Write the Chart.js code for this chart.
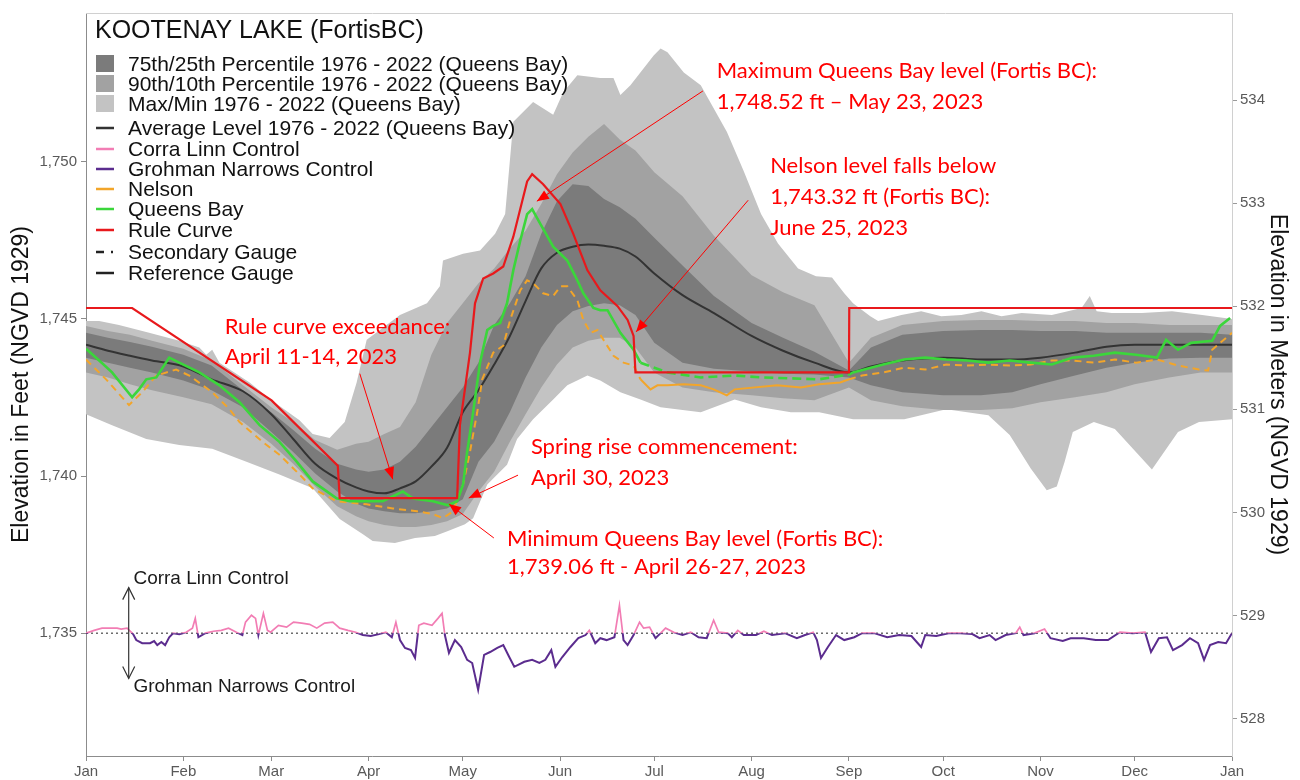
<!DOCTYPE html>
<html>
<head>
<meta charset="utf-8">
<script src="https://cdn.jsdelivr.net/npm/chart.js@4.4.1/dist/chart.umd.min.js"></script>
<style>
  body { margin: 0; background: #fff; }
  #wrap { width: 1300px; height: 780px; }
</style>
</head>
<body>
<div id="wrap"><canvas id="lakeChart" width="1300" height="780"></canvas></div>
<script>
// x values are day of year (0 = Jan 1), y values are feet (NGVD 1929)
const monthDays = [0, 31, 59, 90, 120, 151, 181, 212, 243, 273, 304, 334, 365];
const monthLabels = ['Jan', 'Feb', 'Mar', 'Apr', 'May', 'Jun', 'Jul', 'Aug', 'Sep', 'Oct', 'Nov', 'Dec', 'Jan'];
const feetTicks = [1735, 1740, 1745, 1750];
const meterTicks = [528, 529, 530, 531, 532, 533, 534];

// percentile bands + average, 1976 - 2022 (Queens Bay)
const bandDays = [0, 7, 14, 21, 31, 40, 50, 59, 66, 73, 80, 86, 90, 95, 100, 105, 110, 115, 120, 125,
  130, 135, 140, 145, 150, 155, 160, 165, 170, 175, 181, 190, 200, 212, 222, 232, 243, 250, 260, 273,
  285, 295, 304, 315, 325, 334, 345, 355, 365];
const p90 = [1744.78, 1744.62, 1744.50, 1744.31, 1744.05, 1743.68, 1742.89, 1742.19, 1741.72, 1741.15,
  1740.84, 1741.03, 1741.09, 1741.34, 1741.56, 1742.35, 1743.86, 1744.87, 1745.50, 1746.14,
  1746.61, 1747.24, 1747.81, 1748.66, 1749.61, 1750.30, 1750.80, 1751.21, 1750.71, 1750.36,
  1749.67, 1748.91, 1747.65, 1746.39, 1745.85, 1745.44, 1743.61, 1744.40, 1744.81, 1744.94,
  1744.97, 1744.97, 1744.94, 1744.94, 1744.87, 1744.87, 1744.81, 1744.81, 1744.81];
const p75 = [1744.56, 1744.40, 1744.27, 1744.12, 1743.86, 1743.52, 1742.73, 1742.03, 1741.47, 1740.87,
  1740.39, 1740.21, 1740.14, 1740.21, 1740.46, 1740.93, 1741.56, 1742.19, 1742.82, 1743.61,
  1744.81, 1745.50, 1746.36, 1747.71, 1748.75, 1749.29, 1749.23, 1748.82, 1748.56, 1748.19,
  1747.59, 1746.70, 1745.73, 1744.87, 1744.40, 1743.96, 1743.36, 1744.09, 1744.50, 1744.62,
  1744.65, 1744.65, 1744.62, 1744.62, 1744.56, 1744.56, 1744.56, 1744.56, 1744.50];
const avgLevel = [1744.18, 1743.99, 1743.83, 1743.68, 1743.49, 1743.08, 1742.70, 1741.97, 1741.18, 1740.39,
  1739.92, 1739.64, 1739.51, 1739.45, 1739.61, 1739.83, 1740.30, 1740.90, 1742.03, 1742.73,
  1743.55, 1744.46, 1745.57, 1746.61, 1747.11, 1747.30, 1747.37, 1747.33, 1747.24, 1746.99,
  1746.45, 1745.76, 1745.19, 1744.46, 1743.99, 1743.61, 1743.30, 1743.49, 1743.68, 1743.77,
  1743.71, 1743.71, 1743.77, 1743.93, 1744.12, 1744.18, 1744.18, 1744.18, 1744.18];
const p25 = [1743.77, 1743.61, 1743.45, 1743.30, 1743.04, 1742.73, 1742.19, 1741.40, 1740.77, 1740.08,
  1739.51, 1739.13, 1738.97, 1738.88, 1738.82, 1738.82, 1738.88, 1738.97, 1739.26, 1740.46,
  1741.09, 1742.03, 1743.14, 1744.09, 1744.81, 1745.25, 1745.41, 1745.50, 1745.44, 1745.13,
  1744.24, 1743.61, 1743.42, 1743.33, 1743.26, 1743.23, 1743.14, 1742.89, 1742.67, 1742.57,
  1742.57, 1742.67, 1742.92, 1743.20, 1743.45, 1743.61, 1743.74, 1743.77, 1743.77];
const p10 = [1743.30, 1743.14, 1742.92, 1742.73, 1742.51, 1742.29, 1741.72, 1741.03, 1740.39, 1739.67,
  1739.04, 1738.72, 1738.56, 1738.44, 1738.38, 1738.38, 1738.44, 1738.56, 1738.79, 1739.51,
  1740.14, 1741.09, 1741.97, 1742.82, 1743.55, 1744.09, 1744.31, 1744.40, 1744.40, 1744.09,
  1743.30, 1742.82, 1742.67, 1742.57, 1742.48, 1742.41, 1742.82, 1742.41, 1742.22, 1742.10,
  1742.10, 1742.16, 1742.35, 1742.51, 1742.67, 1742.92, 1743.14, 1743.30, 1743.30];

// max / min 1976 - 2022
const maxDays = [0, 4.2, 10.5, 20.1, 29.7, 36.1, 38.3, 40.2, 42.5, 52.1, 59.1, 68.0, 72.2, 77.6, 82.4, 86.2,
  89.4, 93.6, 100.0, 108.6, 112.7, 113.7, 120.1, 125.5, 130.3, 133.5, 136.1, 142.4, 148.8, 152.0, 156.5,
  163.8, 168.0, 170.2, 173.4, 180.8, 183.0, 185.2, 190.4, 195.8, 204.1, 209.5, 215.0, 220.4, 226.8,
  232.5, 237.6, 241.5, 244.3, 249.8, 252.3, 259.7, 266.0, 272.4, 278.8, 285.2, 291.6, 298.0, 307.6,
  317.1, 319.7, 321.9, 326.7, 336.3, 345.9, 355.5, 365];
const maxLevel = [1744.94, 1744.94, 1744.81, 1744.56, 1744.31, 1744.09, 1743.86, 1744.02, 1743.61, 1742.98,
  1742.41, 1741.78, 1741.34, 1741.21, 1741.72, 1742.98, 1744.34, 1744.65, 1745.13, 1745.50, 1746.04,
  1746.86, 1747.08, 1747.18, 1747.71, 1748.34, 1751.28, 1751.91, 1751.50, 1752.22, 1752.76, 1752.67,
  1752.67, 1752.13, 1752.44, 1753.39, 1753.61, 1753.49, 1752.85, 1752.44, 1750.96, 1749.70, 1748.34,
  1747.40, 1746.61, 1746.36, 1746.32, 1745.82, 1745.50, 1745.09, 1744.94, 1745.13, 1745.25, 1745.09,
  1745.13, 1745.25, 1745.09, 1745.19, 1745.13, 1745.35, 1745.73, 1745.25, 1745.19, 1745.19, 1745.25,
  1745.13, 1745.00];
const minDays = [0, 8.3, 19.2, 29.7, 40.2, 51.1, 61.6, 72.2, 80.8, 88.2, 91.3, 98.4, 104.8, 111.1, 115.3,
  120.7, 123.3, 127.8, 134.1, 137.3, 142.4, 148.8, 153.3, 159.7, 163.8, 170.2, 176.6, 183.0, 195.8,
  206.6, 215.0, 224.5, 233.5, 244.3, 260.6, 274.0, 287.4, 294.2, 300.9, 306.0, 309.2, 311.7, 314.3,
  321.0, 327.7, 334.4, 339.5, 347.8, 354.5, 365];
const minLevel = [1741.97, 1741.62, 1741.18, 1740.99, 1740.87, 1740.46, 1740.05, 1739.61, 1738.63, 1738.15,
  1737.93, 1737.87, 1738.03, 1738.09, 1738.25, 1738.47, 1738.66, 1739.73, 1740.36, 1741.18, 1741.81,
  1742.44, 1742.89, 1743.20, 1743.04, 1742.67, 1742.44, 1742.19, 1742.03, 1742.44, 1742.19, 1742.03,
  1742.03, 1741.81, 1741.81, 1742.13, 1741.94, 1741.31, 1740.24, 1739.55, 1739.67, 1740.46, 1741.40,
  1741.72, 1741.50, 1740.77, 1740.21, 1741.40, 1741.72, 1741.81];

// 2023 rule curve
const ruleDays = [0, 14.7, 59.1, 80.2, 80.8, 118.2, 119.1, 122.3, 123.9, 126.5, 129.7, 132.9, 136.1, 140.5,
  142.1, 145.6, 151.1, 155.2, 159.7, 163.8, 169.3, 172.5, 174.4, 175.0, 243.0, 243.1, 365];
const ruleCurve = [1745.35, 1745.35, 1742.41, 1740.33, 1739.30, 1739.30, 1741.62, 1743.93, 1745.50, 1746.29,
  1746.45, 1746.67, 1747.62, 1749.38, 1749.61, 1749.29, 1748.66, 1747.71, 1746.55, 1745.91, 1745.41,
  1744.97, 1744.46, 1743.30, 1743.30, 1745.35, 1745.35];

// 2023 Queens Bay gauge
const qbDays = [0, 4.2, 8.3, 14.7, 16.9, 19.2, 22.4, 26.5, 29.7, 36.1, 42.5, 48.9, 55.3, 61.6, 67.1, 72.2,
  79.8, 84.0, 94.5, 100.9, 104.1, 110.5, 115.3, 118.2, 120.1, 121.4, 123.3, 125.5, 127.8, 129.7, 131.9,
  134.1, 136.1, 138.3, 140.5, 142.1, 144.7, 148.8, 153.3, 156.5, 158.4, 161.6, 163.8, 166.1, 170.2,
  174.4, 176.6, 185.2, 195.8, 206.6, 215.0, 224.5, 233.5, 243.0, 244.3, 253.9, 260.6, 267.3, 274.0,
  280.7, 287.4, 294.2, 300.9, 307.6, 314.3, 321.0, 327.7, 334.4, 341.1, 344.0, 347.8, 352.0, 358.7,
  361.2, 364.4];
const queensBay = [1744.05, 1743.68, 1743.30, 1742.51, 1742.76, 1743.08, 1743.14, 1743.77, 1743.61, 1743.30,
  1742.89, 1742.35, 1741.62, 1741.09, 1740.46, 1739.83, 1739.29, 1739.20, 1739.20, 1739.51, 1739.29,
  1739.20, 1739.07, 1739.20, 1739.73, 1740.77, 1742.03, 1743.61, 1744.65, 1744.78, 1744.87, 1745.50,
  1746.55, 1747.49, 1748.34, 1748.50, 1748.03, 1747.30, 1746.86, 1746.23, 1745.82, 1745.35, 1745.28,
  1745.28, 1744.56, 1744.02, 1743.61, 1743.30, 1743.14, 1743.20, 1743.14, 1743.11, 1743.08, 1743.23,
  1743.30, 1743.55, 1743.71, 1743.77, 1743.71, 1743.68, 1743.61, 1743.68, 1743.61, 1743.55, 1743.77,
  1743.83, 1743.93, 1743.86, 1743.77, 1744.34, 1744.02, 1744.24, 1744.31, 1744.78, 1745.03];

// 2023 Nelson gauge
const nelsonDays = [0, 6.4, 13.7, 17.9, 22.4, 28.7, 32.9, 40.2, 45.7, 48.9, 56.2, 61.6, 68.0, 72.2, 79.8,
  89.4, 97.7, 105.4, 110.5, 113.7, 116.9, 120.1, 122.3, 124.6, 126.2, 129.7, 132.9, 135.1, 138.3, 140.5,
  142.4, 145.6, 148.8, 151.1, 153.3, 156.5, 158.4, 160.7, 162.9, 164.8, 168.0, 171.2, 174.4, 176.6,
  179.8, 182.0, 185.2, 190.4, 195.8, 199.9, 204.1, 206.6, 220.1, 227.7, 233.5, 240.2, 243.0, 247.2,
  253.9, 260.6, 267.3, 274.0, 280.7, 287.4, 294.2, 300.9, 307.6, 314.3, 321.0, 327.7, 334.4, 341.1,
  347.8, 354.5, 357.4, 358.7, 361.2, 365];
const nelson = [1743.71, 1743.08, 1742.26, 1742.67, 1743.20, 1743.39, 1743.20, 1742.67, 1742.13, 1741.72,
  1741.09, 1740.68, 1740.05, 1739.61, 1739.20, 1739.10, 1738.97, 1738.88, 1738.79, 1738.66, 1738.88,
  1739.73, 1740.77, 1742.03, 1743.08, 1743.93, 1744.15, 1744.97, 1745.91, 1746.23, 1746.14, 1745.82,
  1745.73, 1746.04, 1746.04, 1745.60, 1744.97, 1744.56, 1744.65, 1744.34, 1743.83, 1743.61, 1743.52,
  1743.08, 1742.76, 1742.89, 1742.89, 1742.92, 1742.89, 1742.76, 1742.57, 1742.76, 1742.89, 1742.82,
  1742.92, 1742.98, 1743.08, 1743.20, 1743.30, 1743.45, 1743.39, 1743.55, 1743.52, 1743.55, 1743.52,
  1743.55, 1743.68, 1743.68, 1743.61, 1743.71, 1743.61, 1743.71, 1743.52, 1743.39, 1743.36, 1744.02,
  1744.24, 1744.56];

// Corra Linn (above 1,735) / Grohman Narrows (below 1,735) control
const controlBase = 1735;
const ctrlDays = [0.0, 2.6, 5.1, 9.9, 11.2, 13.1, 15.0, 16.0, 17.9, 20.4, 21.7, 22.7, 24.0, 25.2, 26.5,
  27.8, 29.7, 31.9, 33.9, 34.8, 35.8, 38.0, 40.6, 43.1, 45.4, 47.9, 49.8, 50.8, 52.7, 54.0, 54.9, 56.5,
  57.8, 58.8, 61.3, 63.9, 66.1, 68.7, 71.2, 73.5, 76.0, 78.6, 80.8, 83.4, 85.9, 88.2, 90.7, 93.3, 95.5,
  97.4, 98.7, 100.0, 101.6, 103.5, 104.8, 106.0, 107.6, 110.2, 112.1, 113.4, 114.3, 115.6, 117.5,
  119.5, 121.4, 123.0, 124.9, 126.8, 128.7, 131.0, 132.9, 134.8, 136.4, 139.6, 142.1, 144.4, 146.3,
  148.2, 149.5, 151.7, 154.3, 156.8, 159.1, 160.3, 162.2, 163.8, 165.8, 168.3, 169.9, 171.2, 172.5,
  174.4, 176.3, 177.6, 179.5, 181.4, 184.6, 187.2, 190.0, 192.6, 195.1, 197.7, 199.9, 201.5, 204.4,
  205.7, 207.6, 209.5, 213.4, 215.9, 218.5, 222.6, 226.4, 229.0, 231.6, 232.8, 234.1, 236.3, 238.9,
  241.5, 244.7, 247.2, 251.0, 255.2, 259.0, 262.9, 266.0, 267.3, 270.8, 274.7, 278.5, 282.3, 284.6,
  287.8, 289.7, 292.9, 296.1, 297.4, 298.6, 302.1, 305.3, 307.2, 311.1, 313.6, 317.8, 321.6, 325.5,
  329.3, 333.4, 337.3, 339.2, 341.7, 344.3, 346.2, 349.1, 351.6, 354.2, 356.1, 358.0, 360.6, 363.1, 365.0];
const control = [1735.00, 1735.09, 1735.16, 1735.16, 1735.13, 1735.16, 1734.97, 1734.78, 1734.68, 1734.68,
  1734.75, 1734.62, 1734.72, 1734.62, 1734.87, 1735.00, 1734.97, 1735.03, 1735.16, 1735.47, 1734.87,
  1735.00, 1735.06, 1735.09, 1735.16, 1735.03, 1734.94, 1735.35, 1735.57, 1735.47, 1734.94, 1735.63,
  1735.09, 1735.03, 1735.25, 1735.19, 1735.35, 1735.32, 1735.28, 1735.16, 1735.32, 1735.35, 1735.16,
  1735.09, 1735.03, 1734.94, 1734.91, 1734.97, 1735.03, 1734.87, 1735.35, 1734.78, 1734.53, 1734.46,
  1734.21, 1735.25, 1735.32, 1735.25, 1735.47, 1735.63, 1734.94, 1734.37, 1734.78, 1734.56, 1734.15,
  1734.05, 1733.20, 1734.31, 1734.40, 1734.53, 1734.62, 1734.24, 1733.93, 1734.09, 1734.15, 1734.05,
  1734.15, 1734.46, 1733.93, 1734.24, 1734.56, 1734.84, 1734.94, 1735.09, 1734.68, 1734.84, 1734.78,
  1734.87, 1735.88, 1734.78, 1734.62, 1734.94, 1735.35, 1735.16, 1735.19, 1734.84, 1735.16, 1735.03,
  1734.94, 1735.03, 1734.87, 1734.84, 1735.41, 1735.03, 1735.00, 1734.87, 1735.09, 1734.94, 1734.94,
  1735.06, 1734.94, 1735.00, 1734.84, 1734.94, 1735.03, 1734.78, 1734.21, 1734.56, 1734.94, 1734.78,
  1734.87, 1735.00, 1735.00, 1734.87, 1734.94, 1734.91, 1734.56, 1734.94, 1734.91, 1735.00, 1735.00,
  1734.97, 1734.84, 1734.94, 1734.78, 1734.94, 1735.00, 1735.19, 1734.94, 1735.00, 1735.13, 1734.84,
  1734.75, 1734.84, 1734.84, 1734.78, 1734.78, 1735.03, 1735.00, 1735.03, 1734.40, 1734.84, 1734.87,
  1734.46, 1734.62, 1734.84, 1734.68, 1734.15, 1734.62, 1734.72, 1734.68, 1735.00];

const FT_TO_M = 0.3048;
const yMin = 1731.09, yMax = 1754.74;
const summerStart = 174.5, summerEnd = 243;

const bandColors = { outer: '#c3c3c3', mid: '#a2a2a2', inner: '#7b7b7b' };
const lineColors = {
  average: '#333333', corra: '#f27db4', grohman: '#5b2c8e',
  nelson: '#f2a52a', queens: '#3bd63b', rule: '#e8191c'
};

const pts = (xs, ys) => xs.map((x, i) => ({ x: x, y: ys[i] }));
const inSummer = ctx => ctx.p0.parsed.x >= summerStart && ctx.p0.parsed.x < summerEnd;

// legend, annotations (not data)
const legendRows = [
  { text: '75th/25th Percentile 1976 - 2022 (Queens Bay)', box: bandColors.inner, y: 71 },
  { text: '90th/10th Percentile 1976 - 2022 (Queens Bay)', box: bandColors.mid, y: 91 },
  { text: 'Max/Min 1976 - 2022 (Queens Bay)', box: bandColors.outer, y: 111 },
  { text: 'Average Level 1976 - 2022 (Queens Bay)', line: lineColors.average, y: 135 },
  { text: 'Corra Linn Control', line: lineColors.corra, y: 156 },
  { text: 'Grohman Narrows Control', line: lineColors.grohman, y: 176 },
  { text: 'Nelson', line: lineColors.nelson, y: 196 },
  { text: 'Queens Bay', line: lineColors.queens, y: 216 },
  { text: 'Rule Curve', line: lineColors.rule, y: 237 },
  { text: 'Secondary Gauge', line: '#222', dash: [8, 7, 2, 20], y: 259 },
  { text: 'Reference Gauge', line: '#222', y: 280 }
];

const notes = [
  { lines: ['Maximum Queens Bay level (Fortis BC):', '1,748.52 ft \u2013 May 23, 2023'], gap: 31,
    at: [200.9, 1752.90], from: [196.5, 1752.26], to: [143.6, 1748.75] },
  { lines: ['Nelson level falls below', '1,743.32 ft (Fortis BC):', 'June 25, 2023'], gap: 31,
    at: [217.9, 1749.86], from: [210.9, 1748.78], to: [175.2, 1744.59] },
  { lines: ['Rule curve exceedance:', 'April 11-14, 2023'], gap: 30,
    at: [44.2, 1744.75], from: [87.2, 1743.26], to: [97.7, 1739.90] },
  { lines: ['Spring rise commencement:', 'April 30, 2023'], gap: 31,
    at: [141.7, 1740.92], from: [137.6, 1740.03], to: [121.9, 1739.30] },
  { lines: ['Minimum Queens Bay level (Fortis BC):', '1,739.06 ft - April 26-27, 2023'], gap: 28,
    at: [134.1, 1738.00], from: [129.9, 1738.03], to: [115.6, 1739.11] }
];
const controlNote = { day: 13.6, top: 1736.45, bottom: 1733.56, labelDay: 15.1, upper: 1736.73, lower: 1733.28 };

const arrowHead = function (ctx, x0, y0, x1, y1, len, half, filled) {
  const a = Math.atan2(y1 - y0, x1 - x0);
  const bx = x1 - len * Math.cos(a), by = y1 - len * Math.sin(a);
  const px = -Math.sin(a) * half, py = Math.cos(a) * half;
  ctx.beginPath();
  ctx.moveTo(bx + px, by + py);
  ctx.lineTo(x1, y1);
  ctx.lineTo(bx - px, by - py);
  if (filled) { ctx.closePath(); ctx.fill(); } else { ctx.stroke(); }
};

// the control series is drawn twice: pink part above 1,735, purple part below
const splitAtBase = {
  id: 'splitAtBase',
  beforeDatasetDraw(chart, args) {
    const side = chart.data.datasets[args.index].clipSide;
    if (!side) return;
    const a = chart.chartArea;
    const yb = chart.scales.y.getPixelForValue(controlBase);
    const ctx = chart.ctx;
    ctx.save();
    ctx.beginPath();
    if (side === 'above') ctx.rect(a.left, a.top, a.right - a.left, yb - a.top);
    else ctx.rect(a.left, yb, a.right - a.left, a.bottom - yb);
    ctx.clip();
  },
  afterDatasetDraw(chart, args) {
    if (chart.data.datasets[args.index].clipSide) chart.ctx.restore();
  }
};

const decorations = {
  id: 'decorations',
  afterDatasetsDraw(chart) {
    const ctx = chart.ctx;
    const xs = chart.scales.x, ys = chart.scales.y;
    const area = chart.chartArea;
    const px = d => xs.getPixelForValue(d);
    const py = v => ys.getPixelForValue(v);
    ctx.save();

    // panel top line
    ctx.strokeStyle = '#d0d0d0';
    ctx.lineWidth = 1;
    ctx.beginPath();
    ctx.moveTo(area.left, area.top + 0.5);
    ctx.lineTo(area.right, area.top + 0.5);
    ctx.stroke();

    // legend
    ctx.fillStyle = '#111';
    ctx.textBaseline = 'alphabetic';
    ctx.textAlign = 'left';
    ctx.font = '25px "Liberation Sans", Arial, sans-serif';
    ctx.fillText('KOOTENAY LAKE (FortisBC)', 95, 38);
    ctx.font = '21px "Liberation Sans", Arial, sans-serif';
    legendRows.forEach(function (row) {
      if (row.box) {
        ctx.fillStyle = row.box;
        ctx.fillRect(96, row.y - 16, 18, 17);
      } else {
        ctx.strokeStyle = row.line;
        ctx.lineWidth = 2.5;
        ctx.setLineDash(row.dash || []);
        ctx.beginPath();
        ctx.moveTo(96, row.y - 7);
        ctx.lineTo(114, row.y - 7);
        ctx.stroke();
        ctx.setLineDash([]);
      }
      ctx.fillStyle = '#111';
      ctx.fillText(row.text, 128, row.y);
    });

    // red annotations
    ctx.font = '22px Lato, "Open Sans", sans-serif';
    ctx.textBaseline = 'middle';
    ctx.fillStyle = '#ff0000';
    ctx.strokeStyle = '#ff0000';
    ctx.lineWidth = 1;
    notes.forEach(function (n) {
      const tx = px(n.at[0]), ty = py(n.at[1]);
      n.lines.forEach(function (t, i) { ctx.fillText(t, tx, ty + i * n.gap); });
      const x0 = px(n.from[0]), y0 = py(n.from[1]), x1 = px(n.to[0]), y1 = py(n.to[1]);
      ctx.beginPath();
      ctx.moveTo(x0, y0);
      ctx.lineTo(x1, y1);
      ctx.stroke();
      arrowHead(ctx, x0, y0, x1, y1, 12, 5, true);
    });

    // control double arrow + labels
    const cx = px(controlNote.day), cTop = py(controlNote.top), cBot = py(controlNote.bottom);
    ctx.strokeStyle = '#333';
    ctx.lineWidth = 1.2;
    ctx.beginPath();
    ctx.moveTo(cx, cTop);
    ctx.lineTo(cx, cBot);
    ctx.stroke();
    arrowHead(ctx, cx, cBot, cx, cTop, 12, 6, false);
    arrowHead(ctx, cx, cTop, cx, cBot, 12, 6, false);
    ctx.fillStyle = '#1a1a1a';
    ctx.font = '19px "Liberation Sans", Arial, sans-serif';
    ctx.fillText('Corra Linn Control', px(controlNote.labelDay), py(controlNote.upper));
    ctx.fillText('Grohman Narrows Control', px(controlNote.labelDay), py(controlNote.lower));
    ctx.restore();
  }
};

const init = function () {
  const ctx = document.getElementById('lakeChart').getContext('2d');
  const line = (extra) => Object.assign({ pointRadius: 0, pointHitRadius: 0, tension: 0, fill: false }, extra);
  const band = (data, color, target, order) => line({
    data: data, backgroundColor: color, borderColor: 'rgba(0,0,0,0)', borderWidth: 0,
    fill: target === null ? false : { target: target }, order: order
  });

  new Chart(ctx, {
    type: 'line',
    data: {
      datasets: [
        line({ label: 'Corra Linn Control', data: pts(ctrlDays, control), order: 1, clipSide: 'above',
          borderColor: lineColors.corra, borderWidth: 1.7 }),
        line({ label: 'Grohman Narrows Control', data: pts(ctrlDays, control), order: 0, clipSide: 'below',
          borderColor: lineColors.grohman, borderWidth: 2 }),
        line({ label: 'Base', data: pts([0, 365], [controlBase, controlBase]), order: 2,
          borderColor: '#222', borderWidth: 1, borderDash: [2, 3] }),
        line({ label: 'Rule Curve', data: pts(ruleDays, ruleCurve), order: 3,
          borderColor: lineColors.rule, borderWidth: 2.2 }),
        line({ label: 'Queens Bay', data: pts(qbDays, queensBay), order: 4,
          borderColor: lineColors.queens, borderWidth: 2.6,
          segment: { borderDash: c => inSummer(c) ? [9, 5] : undefined } }),
        line({ label: 'Nelson', data: pts(nelsonDays, nelson), order: 5,
          borderColor: lineColors.nelson, borderWidth: 2, borderDash: [7, 5],
          segment: { borderDash: c => inSummer(c) ? [] : undefined } }),
        line({ label: 'Average', data: pts(bandDays, avgLevel), order: 6,
          borderColor: lineColors.average, borderWidth: 2, cubicInterpolationMode: 'monotone' }),
        band(pts(bandDays, p75), bandColors.inner, 8, 7),
        band(pts(bandDays, p25), bandColors.inner, null, 8),
        band(pts(bandDays, p90), bandColors.mid, 10, 9),
        band(pts(bandDays, p10), bandColors.mid, null, 10),
        band(pts(maxDays, maxLevel), bandColors.outer, 12, 11),
        band(pts(minDays, minLevel), bandColors.outer, null, 12)
      ]
    },
    options: {
      responsive: false,
      animation: false,
      events: [],
      devicePixelRatio: 1,
      layout: { padding: { top: 10, left: 0, right: 0, bottom: 0 } },
      plugins: { legend: { display: false }, tooltip: { enabled: false } },
      scales: {
        x: {
          type: 'linear', min: 0, max: 365,
          afterBuildTicks: s => { s.ticks = monthDays.map(v => ({ value: v })); },
          afterFit: s => { s.height = 24; },
          ticks: { callback: (v, i) => monthLabels[i], autoSkip: false, maxRotation: 0,
            color: '#595959', padding: 2, font: { size: 15 } },
          grid: { drawOnChartArea: false, drawTicks: true, tickLength: 5, color: '#8c8c8c' },
          border: { color: '#8c8c8c' }
        },
        y: {
          type: 'linear', position: 'left', min: yMin, max: yMax,
          afterBuildTicks: s => { s.ticks = feetTicks.map(v => ({ value: v })); },
          afterFit: s => { s.width = 86; },
          ticks: { callback: v => v.toLocaleString('en-US'), color: '#595959', padding: 4, font: { size: 15 } },
          grid: { drawOnChartArea: false, drawTicks: true, tickLength: 5, color: '#8c8c8c' },
          border: { color: '#8c8c8c' },
          title: { display: true, text: 'Elevation in Feet (NGVD 1929)', color: '#111',
            font: { size: 23 }, padding: { top: 8, bottom: 0 } }
        },
        y2: {
          type: 'linear', position: 'right', display: true,
          min: yMin * FT_TO_M, max: yMax * FT_TO_M,
          afterBuildTicks: s => { s.ticks = meterTicks.map(v => ({ value: v })); },
          afterFit: s => { s.width = 68; },
          ticks: { color: '#595959', padding: 3, font: { size: 15 } },
          grid: { drawOnChartArea: false, drawTicks: true, tickLength: 5, color: '#9a9a9a' },
          border: { color: '#d0d0d0' },
          title: { display: true, text: 'Elevation in Meters (NGVD 1929)', color: '#111',
            font: { size: 23 }, padding: { top: 9, bottom: 0 } }
        }
      }
    },
    plugins: [splitAtBase, decorations]
  });
};

Chart.defaults.font.family = '"Liberation Sans", Arial, sans-serif';
document.addEventListener('DOMContentLoaded', init);
</script>
</body>
</html>
